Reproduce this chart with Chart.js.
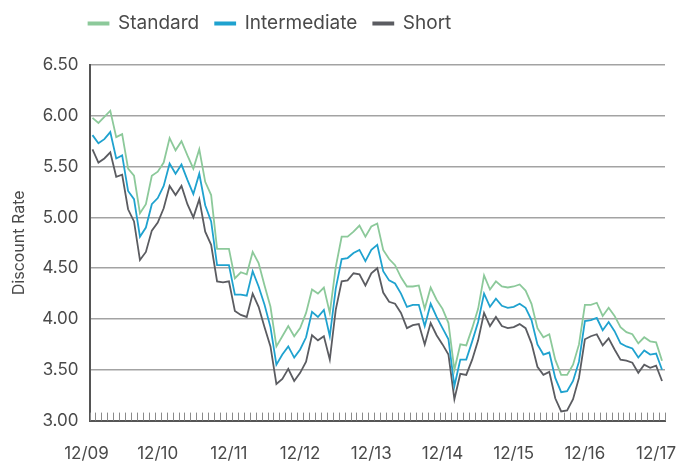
<!DOCTYPE html>
<html>
<head>
<meta charset="utf-8">
<script src="https://cdn.jsdelivr.net/npm/chart.js@4"></script>
<style>
  body { margin: 0; background: #fff; }
  #wrap { width: 696px; height: 464px; }
</style>
</head>
<body>
<div id="wrap"><canvas id="rateChart" width="696" height="464"></canvas></div>
<script>
// Tick labels shown on the x axis (one per year, December)
const yearLabels = ['12/09', '12/10', '12/11', '12/12', '12/13', '12/14', '12/15', '12/16', '12/17'];

// Monthly categories 12/09 .. 12/17
const months = [];
for (let i = 0; i <= 96; i++) {
    const m = (11 + i) % 12 + 1;
    const y = 9 + Math.floor((11 + i) / 12);
    months.push(m + '/' + String(y).padStart(2, '0'));
}

const standard = [
    5.98, 5.93, 5.99, 6.05, 5.79, 5.82, 5.48, 5.41, 5.04, 5.13,
    5.41, 5.45, 5.54, 5.78, 5.66, 5.75, 5.61, 5.48, 5.67, 5.35,
    5.22, 4.69, 4.69, 4.69, 4.40, 4.46, 4.44, 4.66, 4.55, 4.33,
    4.12, 3.73, 3.83, 3.93, 3.83, 3.91, 4.06, 4.29, 4.25, 4.31,
    4.06, 4.51, 4.81, 4.81, 4.86, 4.92, 4.81, 4.91, 4.94, 4.68,
    4.59, 4.53, 4.41, 4.32, 4.32, 4.33, 4.10, 4.31, 4.19, 4.10,
    3.96, 3.50, 3.75, 3.74, 3.91, 4.10, 4.43, 4.29, 4.37, 4.32,
    4.31, 4.32, 4.34, 4.28, 4.15, 3.91, 3.82, 3.85, 3.60, 3.45,
    3.45, 3.55, 3.75, 4.14, 4.14, 4.16, 4.03, 4.11, 4.03, 3.92,
    3.87, 3.85, 3.76, 3.82, 3.78, 3.77, 3.59
];
const intermediate = [
    5.81, 5.73, 5.77, 5.84, 5.58, 5.61, 5.26, 5.18, 4.81, 4.90,
    5.13, 5.19, 5.31, 5.53, 5.43, 5.52, 5.37, 5.23, 5.43, 5.12,
    4.96, 4.53, 4.53, 4.53, 4.24, 4.24, 4.23, 4.47, 4.32, 4.14,
    3.92, 3.55, 3.65, 3.73, 3.62, 3.70, 3.82, 4.07, 4.02, 4.09,
    3.83, 4.30, 4.59, 4.60, 4.65, 4.68, 4.57, 4.68, 4.73, 4.47,
    4.38, 4.35, 4.25, 4.12, 4.14, 4.14, 3.93, 4.15, 4.02, 3.91,
    3.80, 3.34, 3.60, 3.60, 3.78, 3.97, 4.25, 4.12, 4.20, 4.13,
    4.11, 4.12, 4.15, 4.11, 3.99, 3.75, 3.65, 3.67, 3.42, 3.28,
    3.29, 3.39, 3.58, 3.98, 3.99, 4.01, 3.89, 3.97, 3.88, 3.76,
    3.73, 3.71, 3.62, 3.69, 3.65, 3.66, 3.50
];
const short = [
    5.67, 5.54, 5.58, 5.64, 5.40, 5.42, 5.08, 4.96, 4.58, 4.66,
    4.87, 4.95, 5.09, 5.31, 5.22, 5.31, 5.13, 5.00, 5.18, 4.86,
    4.73, 4.37, 4.36, 4.37, 4.08, 4.04, 4.02, 4.25, 4.12, 3.92,
    3.73, 3.36, 3.41, 3.51, 3.39, 3.47, 3.58, 3.84, 3.79, 3.83,
    3.60, 4.09, 4.37, 4.38, 4.45, 4.44, 4.33, 4.45, 4.50, 4.26,
    4.17, 4.15, 4.06, 3.91, 3.94, 3.95, 3.75, 3.96, 3.84, 3.75,
    3.65, 3.21, 3.46, 3.45, 3.60, 3.79, 4.06, 3.93, 4.02, 3.93,
    3.91, 3.92, 3.95, 3.91, 3.76, 3.53, 3.45, 3.48, 3.22, 3.09,
    3.10, 3.21, 3.42, 3.80, 3.83, 3.85, 3.74, 3.81, 3.70, 3.60,
    3.59, 3.57, 3.47, 3.55, 3.52, 3.54, 3.39
];

const FONT = 'Inter, "Open Sans", sans-serif';
const TEXT = '#4a4a4a';
const LEGEND_PAD = 16;

// small monthly tick marks standing up from the x axis
const monthTicks = {
    id: 'monthTicks',
    afterDraw(chart) {
        const xs = chart.scales.x;
        const c = chart.ctx;
        const step = (xs.right - xs.left) / months.length;
        const bottom = chart.chartArea.bottom;
        c.save();
        c.strokeStyle = '#8a8a8a';
        c.lineWidth = 1;
        for (let k = 0; k <= months.length; k++) {
            const x = Math.round(xs.left + k * step) + 0.5;
            c.beginPath();
            c.moveTo(x, bottom - 8);
            c.lineTo(x, bottom);
            c.stroke();
        }
        c.restore();
    }
};

// legend: extra room below it, and line it up with the plot's left edge
const legendPlace = {
    id: 'legendPlace',
    beforeInit(chart) {
        const fit = chart.legend.fit;
        chart.legend.fit = function () {
            fit.bind(chart.legend)();
            this.height += 20;
        };
    },
    afterLayout(chart) {
        const L = chart.legend;
        const dx = (chart.chartArea.left - 1 - LEGEND_PAD) - L.left;
        L.left += dx;
        L.right += dx;
        L.top -= 2;
        L.bottom -= 2;
    }
};

const ctx = document.getElementById('rateChart').getContext('2d');
const rateChart = new Chart(ctx, {
    type: 'line',
    data: {
        labels: months,
        datasets: [{
            label: 'Standard',
            data: standard,
            borderColor: '#8cc99a',
            backgroundColor: '#8cc99a',
            borderWidth: 1.8,
            pointRadius: 0,
            tension: 0
        }, {
            label: 'Intermediate',
            data: intermediate,
            borderColor: '#1fa2cf',
            backgroundColor: '#1fa2cf',
            borderWidth: 1.8,
            pointRadius: 0,
            tension: 0
        }, {
            label: 'Short',
            data: short,
            borderColor: '#5b5c61',
            backgroundColor: '#5b5c61',
            borderWidth: 1.8,
            pointRadius: 0,
            tension: 0
        }]
    },
    options: {
        responsive: false,
        devicePixelRatio: 1,
        animation: false,
        layout: { padding: { left: 10, right: 31, top: 0, bottom: 0 } },
        plugins: {
            legend: {
                position: 'top',
                align: 'start',
                fullSize: false,
                labels: {
                    boxWidth: 20,
                    boxHeight: 2,
                    padding: LEGEND_PAD,
                    color: TEXT,
                    font: { family: FONT, size: 19 }
                }
            },
            tooltip: { enabled: false }
        },
        scales: {
            x: {
                type: 'category',
                offset: true,
                border: { display: true, color: '#555', width: 2 },
                grid: {
                    display: true,
                    drawOnChartArea: false,
                    drawTicks: true,
                    tickLength: 23,
                    tickColor: 'rgba(0,0,0,0)'
                },
                ticks: {
                    autoSkip: false,
                    maxRotation: 0,
                    minRotation: 0,
                    padding: 0,
                    labelOffset: -6,
                    color: TEXT,
                    font: { family: FONT, size: 17 },
                    callback: function (value, index) {
                        return index % 12 === 0 ? yearLabels[index / 12] : '';
                    }
                }
            },
            y: {
                min: 3,
                max: 6.5,
                border: { display: true, color: '#555', width: 2 },
                grid: { color: '#a3a3a3', lineWidth: 1.5, drawTicks: false },
                ticks: {
                    stepSize: 0.5,
                    padding: 11,
                    color: TEXT,
                    font: { family: FONT, size: 17 },
                    callback: v => v.toFixed(2)
                },
                title: {
                    display: true,
                    text: 'Discount Rate',
                    color: TEXT,
                    font: { family: FONT, size: 16 },
                    padding: { top: 0, bottom: 2 }
                }
            }
        }
    },
    plugins: [monthTicks, legendPlace]
});
</script>
</body>
</html>
